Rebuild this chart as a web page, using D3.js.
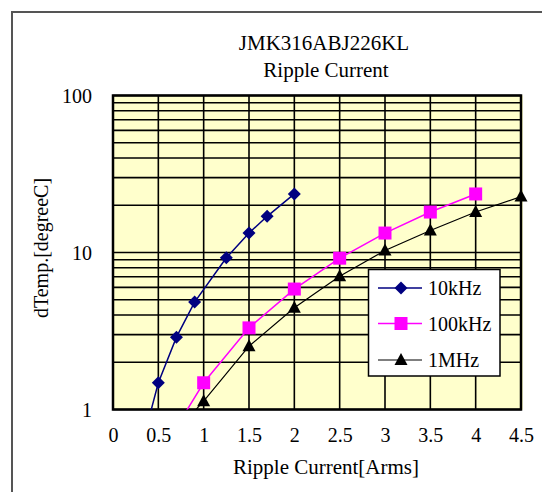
<!DOCTYPE html>
<html><head><meta charset="utf-8">
<script src="https://cdn.jsdelivr.net/npm/d3@7"></script>
<style>html,body{margin:0;padding:0;background:#fff;}svg{display:block;font-family:"Liberation Serif","Times New Roman",serif;}</style>
</head><body>
<svg id="c" width="542" height="492"></svg>
<script>
const titleLines = ["JMK316ABJ226KL", "Ripple Current"];
const xLabel = "Ripple Current[Arms]";
const yLabel = "dTemp.[degreeC]";
const xTicks = [0, 0.5, 1, 1.5, 2, 2.5, 3, 3.5, 4, 4.5];
const yTicks = [1, 10, 100];
const seriesNames = ["10kHz", "100kHz", "1MHz"];
const x10k = [0.3, 0.5, 0.7, 0.9, 1.25, 1.5, 1.7, 2.0];
const y10k = [0.54, 1.48, 2.89, 4.83, 9.25, 13.3, 17.0, 23.6];
const x100k = [0.5, 1, 1.5, 2, 2.5, 3, 3.5, 4];
const y100k = [0.5, 1.48, 3.31, 5.85, 9.2, 13.3, 18.1, 23.6];
const x1M = [0.5, 1, 1.5, 2, 2.5, 3, 3.5, 4, 4.5];
const y1M = [0.55, 1.13, 2.53, 4.45, 7.07, 10.3, 13.8, 18.1, 22.7];

const svg = d3.select("#c");
const L = 113, R = 521, T = 95.5, B = 409.5;
const x = d3.scaleLinear().domain([0, 4.5]).range([L, R]);
const y = d3.scaleLog().domain([1, 100]).range([B, T]);

// outer border
svg.append("rect").attr("x", 12).attr("y", 12).attr("width", 700).attr("height", 700)
  .attr("fill", "none").attr("stroke", "#555").attr("stroke-width", 2);

// plot background
svg.append("rect").attr("x", L).attr("y", T).attr("width", R - L + 2).attr("height", B - T)
  .attr("fill", "#FFFFCC");

// grid
const g = svg.append("g");
g.selectAll("line.h").data(y.ticks()).enter().append("line")
  .attr("x1", L).attr("x2", R).attr("y1", d => y(d)).attr("y2", d => y(d))
  .attr("stroke", "#000").attr("stroke-width", 1.6);
g.selectAll("line.v").data(xTicks).enter().append("line")
  .attr("y1", T).attr("y2", B).attr("x1", d => x(d)).attr("x2", d => x(d))
  .attr("stroke", "#000").attr("stroke-width", 1.6);
svg.append("rect").attr("x", L).attr("y", T).attr("width", R - L).attr("height", B - T)
  .attr("fill", "none").attr("stroke", "#000").attr("stroke-width", 2.5);

// axes via d3 axis (text only)
const xAxis = d3.axisBottom(x).tickValues(xTicks).tickSize(0).tickPadding(0).tickFormat(d => String(d));
const xg = svg.append("g").attr("transform", `translate(0,${B + 32})`).call(xAxis);
xg.select(".domain").remove();
xg.selectAll("text").attr("font-size", 20).attr("font-family", "Liberation Serif").attr("fill", "#000").attr("dy", 0);

const yAxis = d3.axisLeft(y).tickValues(yTicks).tickSize(0).tickPadding(0).tickFormat(d => String(d));
const yg = svg.append("g").attr("transform", `translate(${L - 21},0)`).call(yAxis);
yg.select(".domain").remove();
yg.selectAll("text").attr("font-size", 20).attr("font-family", "Liberation Serif").attr("fill", "#000").attr("dy", "0.33em");

// titles
svg.append("text").attr("x", 324).attr("y", 50).attr("text-anchor", "middle").attr("font-size", 21).text(titleLines[0]);
svg.append("text").attr("x", 326).attr("y", 77).attr("text-anchor", "middle").attr("font-size", 21).text(titleLines[1]);
svg.append("text").attr("x", 326).attr("y", 474).attr("text-anchor", "middle").attr("font-size", 21).text(xLabel);
svg.append("text").attr("transform", "translate(48,248) rotate(-90)").attr("text-anchor", "middle").attr("font-size", 20).text(yLabel);

// series
svg.append("clipPath").attr("id", "clip").append("rect").attr("x", L).attr("y", T).attr("width", R - L).attr("height", B - T);
const series = [
  {name: seriesNames[0], xs: x10k, ys: y10k, color: "#000080", shape: "diamond", w: 1.5},
  {name: seriesNames[1], xs: x100k, ys: y100k, color: "#FF00FF", shape: "square", w: 1.5},
  {name: seriesNames[2], xs: x1M, ys: y1M, color: "#000000", shape: "triangle", w: 1.2}
];
const symType = {diamond: d3.symbolDiamond2, square: d3.symbolSquare2, triangle: d3.symbolTriangle2};
const symSize = {diamond: 90, square: 150, triangle: 80};
function markerPath(shape){
  if (shape === "diamond") return "M0,-6.5L6.5,0L0,6.5L-6.5,0Z";
  if (shape === "square") return "M-6.5,-6.5H6.5V6.5H-6.5Z";
  return "M0,-7L6.5,5L-6.5,5Z";
}
const line = d3.line().x(d => x(d[0])).y(d => y(d[1]));
series.forEach(s => {
  const pts = s.xs.map((v, i) => [v, s.ys[i]]);
  svg.append("path").attr("d", line(pts)).attr("fill", "none").attr("stroke", s.color)
    .attr("stroke-width", s.w).attr("clip-path", "url(#clip)");
  svg.selectAll(null).data(pts.filter(p => p[1] >= 1)).enter().append("path")
    .attr("d", markerPath(s.shape)).attr("transform", p => `translate(${x(p[0])},${y(p[1])})`)
    .attr("fill", s.color);
});

// legend
const lg = svg.append("g");
lg.append("rect").attr("x", 368.5).attr("y", 269.5).attr("width", 131.5).attr("height", 106.5)
  .attr("fill", "#fff").attr("stroke", "#000").attr("stroke-width", 1.5);
const legY = [288, 323.5, 360];
series.forEach((s, i) => {
  lg.append("line").attr("x1", 378).attr("x2", 422).attr("y1", legY[i]).attr("y2", legY[i])
    .attr("stroke", s.color).attr("stroke-width", s.w);
  lg.append("path").attr("d", markerPath(s.shape)).attr("transform", `translate(401,${legY[i]})`).attr("fill", s.color);
  lg.append("text").attr("x", 428).attr("y", legY[i]).attr("dy", "0.35em").attr("font-size", 20).text(s.name);
});
</script>
</body></html>
